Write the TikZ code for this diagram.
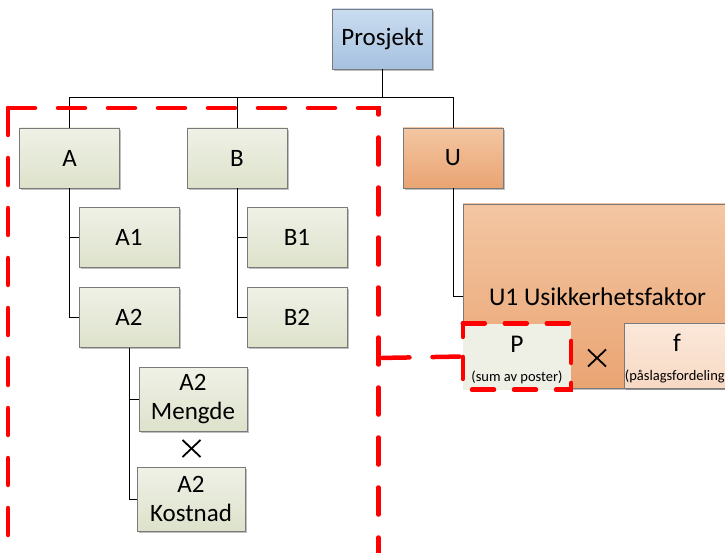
\documentclass[tikz,border=0pt]{standalone}
\usepackage{fontspec}
\setmainfont{Carlito}
\usetikzlibrary{shadows,calc}

\definecolor{blueTop}{HTML}{CADCF0}
\definecolor{blueBot}{HTML}{A6C2E0}
\definecolor{greenTop}{HTML}{EFF1E6}
\definecolor{greenBot}{HTML}{DDE2CB}
\definecolor{orangeTop}{HTML}{F3C6A2}
\definecolor{orangeBot}{HTML}{EAA473}
\definecolor{pFill}{HTML}{EEF0E6}
\definecolor{fTop}{HTML}{FBE8DA}
\definecolor{fBot}{HTML}{F7D9C4}
\definecolor{edge}{HTML}{7A7A7A}
\definecolor{scope}{HTML}{FF0000}

\tikzset{
  boxbase/.style={draw=edge, line width=0.9pt, inner sep=2pt, align=center,
    font=\fontsize{25}{29}\selectfont,
    drop shadow={shadow xshift=1.6pt, shadow yshift=-1.6pt, opacity=0.25, fill=black}},
  bluebox/.style={boxbase, top color=blueTop, bottom color=blueBot,
    minimum width=100pt, minimum height=60pt},
  greenbox/.style={boxbase, top color=greenTop, bottom color=greenBot,
    minimum width=100pt, minimum height=60pt},
  wideGreen/.style={boxbase, top color=greenTop, bottom color=greenBot,
    minimum width=108pt, minimum height=64pt},
  orangebox/.style={boxbase, top color=orangeTop, bottom color=orangeBot,
    minimum width=100pt, minimum height=60pt},
  tree/.style={draw=black, line width=1pt},
  scopeline/.style={draw=scope, line width=4.5pt, line cap=round,
    dash pattern=on 27pt off 23pt},
  bigtext/.style={font=\fontsize{25.5}{29}\selectfont, anchor=base, inner sep=0pt},
  smalltext/.style={font=\fontsize{14.5}{16}\selectfont, anchor=base, inner sep=0pt},
  crossmark/.style={draw=black, line width=1.8pt},
}

% thin multiplication cross centred on a named coordinate
\newcommand{\mulcross}[1]{%
  \draw[crossmark] ($(#1)+(-9,-8.5)$) -- ($(#1)+(9,8.5)$);
  \draw[crossmark] ($(#1)+(-9,8.5)$) -- ($(#1)+(9,-8.5)$);}

\begin{document}
\begin{tikzpicture}[x=1pt, y=-1pt]
\useasboundingbox (0,0) rectangle (725,553);
\clip (0,0) rectangle (725,553);

% top level
\node[bluebox] (pro) at (382.5,39) {Prosjekt};

% first level
\node[greenbox] (a) at (69.5,158) {A};
\node[greenbox] (b) at (237,158) {B};
\node[orangebox] (u) at (453,158) {U};

% second level
\node[greenbox] (a1) at (129,237.5) {A1};
\node[greenbox] (a2) at (129,317.5) {A2};
\node[greenbox] (b1) at (297,237.5) {B1};
\node[greenbox] (b2) at (297,317.5) {B2};

% third level under A2
\node[wideGreen] (am) at (193,399.5) {A2\\Mengde};
\node[wideGreen] (ak) at (191,499) {A2\\Kostnad};
\coordinate (x1) at (191.5,448.5);
\mulcross{x1}

% uncertainty factor block
\node[boxbase, top color=orangeTop, bottom color=orangeBot,
      minimum width=269pt, minimum height=184pt] (u1) at (597.5,296) {};
\node[bigtext] (u1t) at (597.5,305) {U1 Usikkerhetsfaktor};

\node[draw=none, fill=pFill, minimum width=108pt, minimum height=66pt, inner sep=0pt] (p) at (517,356.5) {};
\node[bigtext] (pt) at ($(p.north)+(0,29)$) {P};
\node[smalltext] (ps) at ($(p.north)+(0,58)$) {(sum av poster)};

\node[boxbase, top color=fTop, bottom color=fBot,
      minimum width=106pt, minimum height=65pt] (f) at (677,355.5) {};
\node[bigtext] (ft) at ($(f.north)+(0,29)$) {f};
\node[smalltext] (fs) at ($(f.north)+(0,58)$) {(påslagsfordeling)};
\coordinate (x2) at (597,358);
\mulcross{x2}

% connectors
\coordinate (bus) at (382.5,97.5);
\draw[tree] (pro.south) -- (bus);
\draw[tree] (a.north) |- (bus) -| (u.north);
\draw[tree] (b.north) -- (b.north |- bus);
\draw[tree] (a.south) |- (a1.west);
\draw[tree] (a.south) |- (a2.west);
\draw[tree] (b.south) |- (b1.west);
\draw[tree] (b.south) |- (b2.west);
\draw[tree] (a2.south) |- (am.west);
\draw[tree] (a2.south) |- (ak.west);
\draw[tree] (u.south) |- (u1.west);

% red dashed grouping
\coordinate (gTL) at (8,108);
\coordinate (gBR) at (378.5,600);
\draw[scopeline] (gTL) -- (gTL -| gBR) -- (gBR);
\draw[scopeline] (gTL) -- (gTL |- gBR);
\coordinate (gR) at (378.5,358);
\draw[scopeline, dash phase=-4pt] (gR) -- (p.west);
\draw[scopeline, dash pattern=on 22pt off 20pt] (p.north west) -- (p.north east) -- (p.south east) -- (p.south west) -- cycle;
\end{tikzpicture}
\end{document}
